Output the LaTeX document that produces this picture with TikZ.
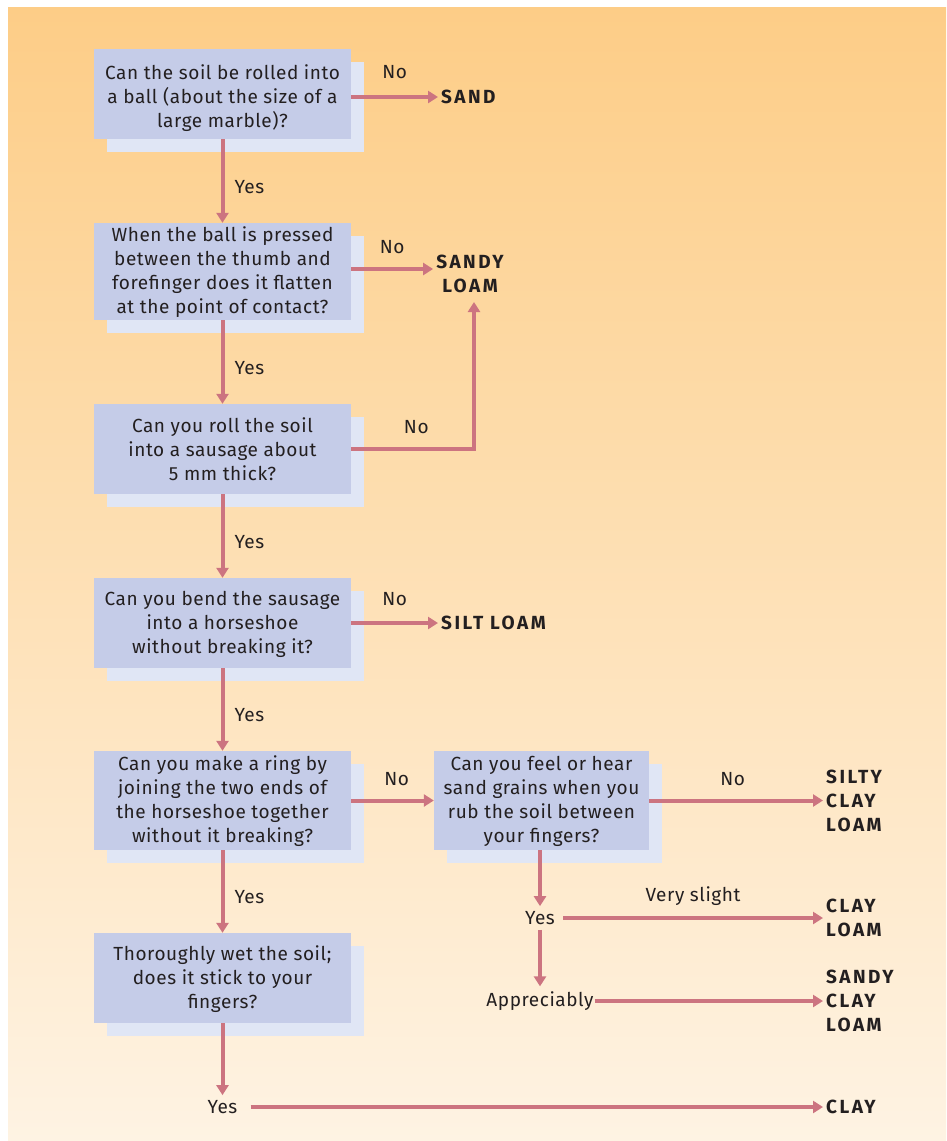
\documentclass[tikz,border=0pt]{standalone}
\usepackage{fontspec}
\setmainfont{Fira Sans}[LetterSpace=3]
\newfontfamily\resfont{Fira Sans}[LetterSpace=13]
\usetikzlibrary{arrows.meta,shadows}
\definecolor{bgtop}{HTML}{FDCD87}
\definecolor{bgbot}{HTML}{FEF3E3}
\definecolor{boxc}{HTML}{C5CCE8}
\definecolor{shadc}{HTML}{E0E6F5}
\definecolor{arr}{HTML}{CC7480}
\definecolor{txt}{HTML}{231F20}
\newcommand\dnstrut[1]{\rule{0pt}{#1}}
\begin{document}
\begin{tikzpicture}[x=1pt,y=-1pt,
  every node/.style={text=txt,font=\fontsize{19}{24}\selectfont},
  qbox/.style={fill=boxc,minimum width=257pt,minimum height=90pt,align=center,inner sep=0pt,
    general shadow={fill=shadc,shadow xshift=13pt,shadow yshift=-13pt}},
  res/.style={font=\fontsize{19}{24}\resfont\bfseries,align=left,inner sep=3pt},
  lab/.style={inner sep=0pt},
  yeslab/.style={lab,pos=0.5,right=10pt,yshift=-6pt},
  conn/.style={draw=arr,line width=4pt,-{Triangle[length=10pt,width=12pt]}}]
\useasboundingbox (0,0) rectangle (946,1141);
\shade[top color=bgtop,bottom color=bgbot] (8,7) rectangle (946,1141);
% question boxes
\node[qbox] (b1) at (222.5,94) {\dnstrut{23pt}Can the soil be rolled into\\a ball (about the size of a\\large marble)?};
\node[qbox,minimum height=97pt] (b2) at (222.5,271.5) {\dnstrut{16pt}When the ball is pressed\\between the thumb and\\forefinger does it flatten\\at the point of contact?};
\node[qbox] (b3) at (222.5,449) {Can you roll the soil\\into a sausage about\\5 mm thick?};
\node[qbox] (b4) at (222.5,623) {\dnstrut{18pt}Can you bend the sausage\\into a horseshoe\\without breaking it?};
\node[qbox,minimum height=99pt] (b5) at (222.5,800.5) {\dnstrut{17pt}Can you make a ring by\\joining the two ends of\\the horseshoe together\\without it breaking?};
\node[qbox] (b6) at (222.5,978) {\dnstrut{18pt}Thoroughly wet the soil;\\does it stick to your\\fingers?};
\node[qbox,minimum width=215pt,minimum height=99pt] (b7) at (541.5,800.5) {\dnstrut{16pt}Can you feel or hear\\sand grains when you\\rub the soil between\\your fingers?};
% results
\node[res,anchor=west] (sand) at (438,97) {SAND};
\node[res,align=center] (sl) at (470,274) {SANDY\\LOAM};
\node[res,anchor=west] (silt) at (438,623) {SILT LOAM};
\node[res,anchor=west] (scl) at (823,801) {SILTY\\CLAY\\LOAM};
\node[res,anchor=west] (cl) at (823,918) {CLAY\\LOAM};
\node[res,anchor=west] (sacl) at (823,1001) {SANDY\\CLAY\\LOAM};
\node[res,anchor=west] (clay) at (823,1107) {CLAY};
\coordinate (slb) at (474,302);
% intermediate labels
\node[inner sep=5pt] (ry) at (540,918) {Yes};
\node[inner sep=5pt] (app) at (540,1001) {Appreciably};
\node[inner sep=5pt] (by) at (222.5,1107) {Yes};
% connectors
\draw[conn] (b1.east |- sand) -- (sand.west) node[lab,pos=0.5,above=16pt] {No};
\draw[conn] (b2.east |- 0,269) -- (sl.west |- 0,269) node[lab,pos=0.5,above=13pt] {No};
\draw[conn] (b3.east) -- (474,449) node[lab,pos=0.53,above=13pt] {No} -- (slb);
\draw[conn] (b4.east |- silt) -- (silt.west) node[lab,pos=0.5,above=15pt] {No};
\draw[conn] (b5.east) -- (b7.west) node[lab,pos=0.55,above=13pt] {No};
\draw[conn] (b7.east) -- (scl.west |- b7.east) node[lab,pos=0.48,above=13pt] {No};
\draw[conn] (b7.south -| ry) -- (ry.north);
\draw[conn] ([xshift=3pt]ry.east) -- (ry.east -| cl.west) node[lab,pos=0.5,above=10pt] {Very slight};
\draw[conn] (ry.south) -- (app.north);
\draw[conn] ([xshift=-4pt]app.east) -- (app.east -| sacl.west);
\draw[conn] (b1.south) -- (b2.north) node[yeslab] {Yes};
\draw[conn] (b2.south) -- (b3.north) node[yeslab] {Yes};
\draw[conn] (b3.south) -- (b4.north) node[yeslab] {Yes};
\draw[conn] (b4.south) -- (b5.north) node[yeslab] {Yes};
\draw[conn] (b5.south) -- (b6.north) node[yeslab] {Yes};
\draw[conn] (b6.south) -- (by.north);
\draw[conn] ([xshift=8pt]by.east) -- (by.east -| clay.west);
\end{tikzpicture}
\end{document}
